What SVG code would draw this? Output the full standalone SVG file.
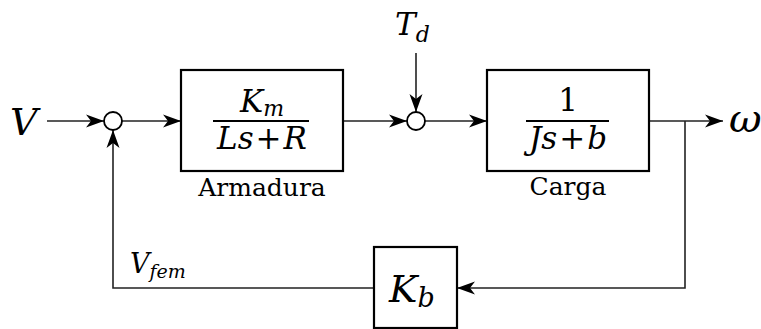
<svg xmlns="http://www.w3.org/2000/svg" width="761" height="329" viewBox="0 0 761 329">
<style>
.box{fill:#fff;stroke:#000;stroke-width:2.2}
.sum{fill:#fff;stroke:#000;stroke-width:1.8}
.ln{fill:none;stroke:#222;stroke-width:1.6}
text{font-family:'DejaVu Serif',serif;fill:#000}
.m{font-style:italic}
.up{font-style:normal}
</style>
<defs>
<marker id="ah" markerUnits="userSpaceOnUse" markerWidth="20" markerHeight="14" refX="18" refY="7" orient="auto" overflow="visible">
<path d="M18,7 L0,0.5 L5,7 L0,13.5 Z" fill="#000"/>
</marker>
</defs>
<g id="connectors">
<path class="ln" d="M47,121 H104" marker-end="url(#ah)"/>
<path class="ln" d="M122,121 H181" marker-end="url(#ah)"/>
<path class="ln" d="M343,121 H407" marker-end="url(#ah)"/>
<path class="ln" d="M416,53 V112" marker-end="url(#ah)"/>
<path class="ln" d="M425,121 H487" marker-end="url(#ah)"/>
<path class="ln" d="M649,121 H723" marker-end="url(#ah)"/>
<path class="ln" d="M685,121 V288 H457" marker-end="url(#ah)"/>
<path class="ln" d="M374,288 H113 V130" marker-end="url(#ah)"/>
</g>
<g id="input-V">
<text class="m" x="10" y="135" font-size="38">V</text>
</g>
<g id="sum1">
<circle class="sum" cx="113" cy="121" r="9"/>
</g>
<g id="armadura">
<rect class="box" x="181" y="70" width="162" height="101"/>
<text class="m" x="262" y="112" font-size="31" text-anchor="middle">K<tspan font-size="22" dy="4">m</tspan></text>
<line x1="213" y1="121" x2="309" y2="121" stroke="#000" stroke-width="2"/>
<text class="m" x="262" y="149" font-size="31" text-anchor="middle">Ls<tspan class="up" dx="2">+</tspan><tspan dx="2">R</tspan></text>
<text x="262" y="196" font-size="25" text-anchor="middle">Armadura</text>
</g>
<g id="torque-Td">
<text class="m" x="395" y="35" font-size="31">T<tspan font-size="22" dy="7">d</tspan></text>
</g>
<g id="sum2">
<circle class="sum" cx="416" cy="121" r="9"/>
</g>
<g id="carga">
<rect class="box" x="487" y="70" width="162" height="101"/>
<text x="568" y="111" font-size="31" text-anchor="middle">1</text>
<line x1="526" y1="121" x2="609" y2="121" stroke="#000" stroke-width="2"/>
<text class="m" x="568" y="149" font-size="31" text-anchor="middle">Js<tspan class="up" dx="2">+</tspan><tspan dx="2">b</tspan></text>
<text x="568" y="195" font-size="25" text-anchor="middle">Carga</text>
</g>
<g id="output-omega">
<text class="m" x="729" y="132" font-size="40">ω</text>
</g>
<g id="Kb">
<rect class="box" x="374" y="247" width="83" height="81"/>
<text class="m" x="389" y="302" font-size="38">K<tspan font-size="27" dy="5">b</tspan></text>
</g>
<g id="label-Vfem">
<text class="m" x="130" y="273" font-size="27">V<tspan font-size="19" dy="5">fem</tspan></text>
</g>
</svg>
